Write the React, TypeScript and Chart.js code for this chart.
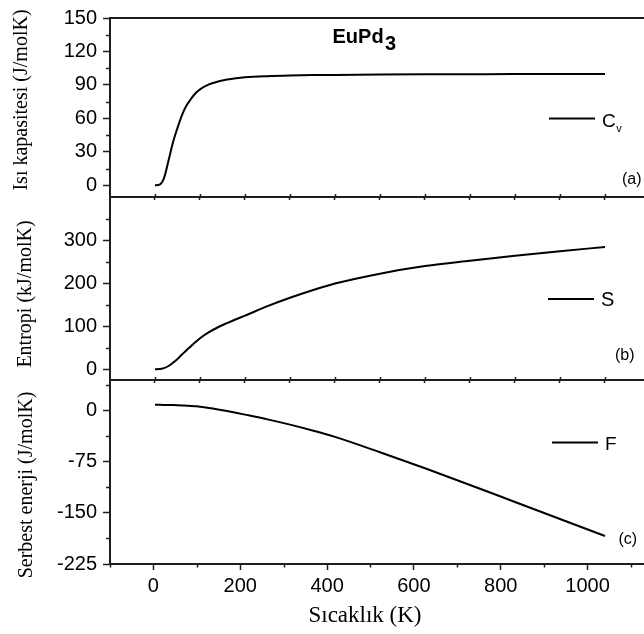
import React, { useEffect, useRef } from 'react';
import { Chart, registerables } from 'chart.js';

Chart.register(...registerables);

// ---------------- data ----------------
const temperatureK = [0, 10, 20, 30, 40, 50, 60, 70, 80, 90, 100, 120, 140, 160, 180, 200, 250, 300, 350, 400, 500, 600, 700, 800, 900, 1000];
const heatCapacity = [0, 0.6, 6.5, 22, 38.5, 51.5, 63, 71.5, 77.5, 82.5, 86, 90.5, 93, 94.8, 96, 96.8, 97.8, 98.4, 98.8, 99.0, 99.3, 99.5, 99.6, 99.7, 99.7, 99.8];
const entropy = [0, 0.3, 2.5, 7.5, 15, 24, 34, 44, 53.5, 63, 72, 86, 97.5, 107, 116, 124.5, 146.5, 166, 183.5, 199, 222, 239.5, 252, 263.5, 274, 284];
const freeEnergy = [8.5, 8.5, 8.45, 8.35, 8.2, 8.0, 7.7, 7.3, 6.9, 6.4, 5.8, 4.0, 1.8, -0.6, -3.1, -5.8, -12.8, -20.5, -29, -38.5, -61, -84.5, -109, -134, -159, -184];

const cvTicks = [0, 30, 60, 90, 120, 150];
const cvMinorTicks = [15, 45, 75, 105, 135];
const sTicks = [0, 100, 200, 300];
const sMinorTicks = [50, 150, 250, 350];
const fTicks = [-225, -150, -75, 0];
const fMinorTicks = [-187.5, -112.5, -37.5, 37.5];
const tempTicks = [0, 200, 400, 600, 800, 1000];
const tempMinorTicks = [-100, 100, 300, 500, 700, 900, 1100];
const panelEdgeTicks = [0, 100, 200, 300, 400, 500, 600, 700, 800, 900, 1000];

// ---------------- styles ----------------
const W = 644;
const H = 634;
const SANS = "'Liberation Sans', Arial, Helvetica, sans-serif";
const SERIF = "'Liberation Serif', 'Times New Roman', Times, serif";
const INK = '#000000';
const AXIS = '#1e1e1e';

Chart.defaults.font.family = SANS;

type Panel = {
  values: number[];
  label: string;
  legendMain: string;
  legendSub?: string;
  yTitle: string;
  yTitleX: number;
  yTitleY: number;
  yMin: number;
  yMax: number;
  yTicks: number[];
  yMinor: number[];
  top: number;
  bottom: number;
  legend: { x0: number; x1: number; y: number; tx: number; ty: number; size: number };
  tag: { text: string; x: number; y: number };
  topBorder?: boolean;
  topTicks?: boolean;
  isBottom?: boolean;
};

const panels: Panel[] = [
  {
    values: heatCapacity,
    label: 'Cv',
    legendMain: 'C',
    legendSub: 'v',
    yTitle: 'Isı kapasitesi (J/molK)',
    yTitleX: 27,
    yTitleY: 100,
    yMin: -10.5,
    yMax: 150,
    yTicks: cvTicks,
    yMinor: cvMinorTicks,
    top: 13,
    bottom: 197,
    legend: { x0: 549, x1: 595, y: 118.5, tx: 602, ty: 126.5, size: 19 },
    tag: { text: '(a)', x: 622, y: 183.5 },
    topBorder: true,
  },
  {
    values: entropy,
    label: 'S',
    legendMain: 'S',
    yTitle: 'Entropi (kJ/molK)',
    yTitleX: 30.5,
    yTitleY: 294,
    yMin: -25,
    yMax: 400,
    yTicks: sTicks,
    yMinor: sMinorTicks,
    top: 197,
    bottom: 380,
    legend: { x0: 548, x1: 594, y: 299, tx: 601, ty: 306, size: 20 },
    tag: { text: '(b)', x: 615, y: 360 },
    topTicks: true,
  },
  {
    values: freeEnergy,
    label: 'F',
    legendMain: 'F',
    yTitle: 'Serbest enerji (J/molK)',
    yTitleX: 32,
    yTitleY: 485,
    yMin: -225,
    yMax: 45,
    yTicks: fTicks,
    yMinor: fMinorTicks,
    top: 380,
    bottom: 564,
    legend: { x0: 552, x1: 598, y: 442.5, tx: 605, ty: 450, size: 19 },
    tag: { text: '(c)', x: 618.5, y: 543.5 },
    topTicks: true,
    isBottom: true,
  },
];

function strokeLine(ctx: CanvasRenderingContext2D, x1: number, y1: number, x2: number, y2: number) {
  ctx.beginPath();
  ctx.moveTo(x1, y1);
  ctx.lineTo(x2, y2);
  ctx.stroke();
}

const framePlugin = {
  id: 'frame',
  afterDraw(chart: any, _args: any, o: any) {
    const ctx: CanvasRenderingContext2D = chart.ctx;
    const a = chart.chartArea;
    const xs = chart.scales.x;
    const ys = chart.scales.y;
    ctx.save();
    ctx.strokeStyle = AXIS;
    if (o.topBorder) {
      ctx.lineWidth = 2;
      strokeLine(ctx, a.left - 1, a.top, a.right, a.top);
    }
    ctx.lineWidth = 1.5;
    if (o.topTicks) {
      for (const v of panelEdgeTicks) {
        const px = Math.round(xs.getPixelForValue(v)) + 0.5;
        strokeLine(ctx, px, a.top, px, a.top - 3);
      }
    }
    for (const v of o.yMinor) {
      const py = Math.round(ys.getPixelForValue(v)) + 0.5;
      strokeLine(ctx, a.left - 4, py, a.left, py);
    }
    if (o.isBottom) {
      const xb = chart.scales.xb;
      for (const v of tempMinorTicks) {
        const px = Math.round(xb.getPixelForValue(v)) + 0.5;
        strokeLine(ctx, px, a.bottom, px, a.bottom + 3.5);
      }
    }

    // y axis title
    ctx.fillStyle = INK;
    ctx.save();
    ctx.translate(o.yTitleX, o.yTitleY);
    ctx.rotate(-Math.PI / 2);
    ctx.font = `20px ${SERIF}`;
    ctx.textAlign = 'center';
    ctx.textBaseline = 'alphabetic';
    ctx.fillText(o.yTitle, 0, 0);
    ctx.restore();

    // legend entry from the dataset
    const ds = chart.data.datasets[0];
    const lg = o.legend;
    ctx.strokeStyle = ds.borderColor;
    ctx.lineWidth = 2;
    strokeLine(ctx, lg.x0, lg.y, lg.x1, lg.y);
    ctx.textAlign = 'left';
    ctx.textBaseline = 'alphabetic';
    ctx.font = `${lg.size}px ${SANS}`;
    ctx.fillText(o.legendMain, lg.tx, lg.ty);
    if (o.legendSub) {
      const w = ctx.measureText(o.legendMain).width;
      ctx.font = `11px ${SANS}`;
      ctx.fillText(o.legendSub, lg.tx + w + 0.5, lg.ty + 5.5);
    }

    // panel tag
    ctx.font = `16px ${SANS}`;
    ctx.fillText(o.tag.text, o.tag.x, o.tag.y);

    if (o.topBorder) {
      ctx.font = `bold 20px ${SANS}`;
      ctx.fillText('EuPd', 332.5, 42.7);
      const w = ctx.measureText('EuPd').width;
      ctx.fillText('3', 332.5 + w + 1.5, 50);
    }
    if (o.isBottom) {
      ctx.font = `23px ${SERIF}`;
      ctx.textAlign = 'center';
      ctx.fillText('Sıcaklık (K)', 365, 622);
    }
    ctx.restore();
  },
};

const plainNumber = (v: number | string) => String(v);

function buildConfig(p: Panel): any {
  const tickFont = { family: SANS, size: 20 };
  const scales: any = {
    x: {
      type: 'linear',
      position: 'bottom',
      min: -100,
      max: 1086.7,
      display: !p.isBottom,
      border: { display: true, color: AXIS, width: 2 },
      grid: { drawOnChartArea: false, drawTicks: true, tickLength: 3, color: AXIS, tickWidth: 1.5 },
      ticks: { display: false },
      afterBuildTicks: (s: any) => {
        s.ticks = panelEdgeTicks.map((v) => ({ value: v }));
      },
      afterFit: (s: any) => {
        s.height = 0;
      },
    },
    y: {
      type: 'linear',
      position: 'left',
      min: p.yMin,
      max: p.yMax,
      border: { display: true, color: AXIS, width: 2 },
      grid: { drawOnChartArea: false, drawTicks: true, tickLength: 7, color: AXIS, tickWidth: 1.5 },
      ticks: { font: tickFont, color: INK, padding: 6, autoSkip: false, callback: plainNumber },
      afterBuildTicks: (s: any) => {
        s.ticks = p.yTicks.map((v) => ({ value: v }));
      },
      afterFit: (s: any) => {
        s.width = 110;
      },
    },
  };
  if (p.isBottom) {
    scales.xb = {
      type: 'linear',
      position: 'bottom',
      min: -100,
      max: 1130,
      border: { display: true, color: AXIS, width: 2 },
      grid: { drawOnChartArea: false, drawTicks: true, tickLength: 6, color: AXIS, tickWidth: 1.5 },
      ticks: { font: tickFont, color: INK, padding: 4, autoSkip: false, maxRotation: 0, callback: plainNumber },
      afterBuildTicks: (s: any) => {
        s.ticks = tempTicks.map((v) => ({ value: v }));
      },
      afterFit: (s: any) => {
        s.height = H - p.bottom;
      },
    };
  }
  return {
    type: 'line',
    data: {
      datasets: [
        {
          label: p.label,
          data: temperatureK.map((t, i) => ({ x: t, y: p.values[i] })),
          borderColor: '#000000',
          borderWidth: 2,
          pointRadius: 0,
          fill: false,
          cubicInterpolationMode: 'monotone',
        },
      ],
    },
    options: {
      animation: false,
      responsive: false,
      devicePixelRatio: 1,
      events: [],
      layout: {
        padding: { top: p.top, bottom: p.isBottom ? 0 : H - p.bottom, left: 0, right: 0 },
      },
      plugins: {
        legend: { display: false },
        tooltip: { enabled: false },
        title: { display: false },
        frame: {
          yMinor: p.yMinor,
          yTitle: p.yTitle,
          yTitleX: p.yTitleX,
          yTitleY: p.yTitleY,
          legend: p.legend,
          legendMain: p.legendMain,
          legendSub: p.legendSub,
          tag: p.tag,
          topBorder: !!p.topBorder,
          topTicks: !!p.topTicks,
          isBottom: !!p.isBottom,
        },
      },
      scales,
    },
    plugins: [framePlugin],
  };
}

export default function App() {
  const refs = useRef<(HTMLCanvasElement | null)[]>([]);
  useEffect(() => {
    const charts = panels.map((p, i) => new Chart(refs.current[i] as HTMLCanvasElement, buildConfig(p)));
    return () => {
      charts.forEach((c) => c.destroy());
    };
  }, []);
  return (
    <div style={{ position: 'absolute', left: 0, top: 0, width: W, height: H, background: '#ffffff', overflow: 'hidden' }}>
      {panels.map((p, i) => (
        <canvas
          key={p.label}
          ref={(el) => {
            refs.current[i] = el;
          }}
          width={W}
          height={H}
          style={{ position: 'absolute', left: 0, top: 0, width: W, height: H }}
        />
      ))}
    </div>
  );
}
